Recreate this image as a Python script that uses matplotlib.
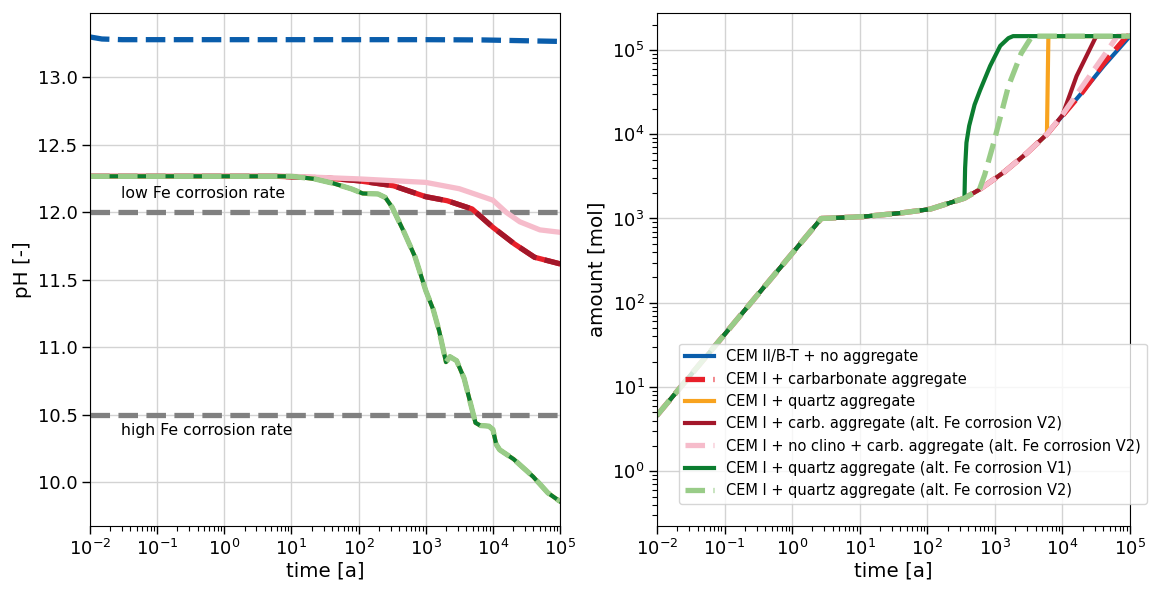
#!/usr/bin/env python3
import matplotlib

matplotlib.use("Agg")
import matplotlib.pyplot as plt
from matplotlib.ticker import LogLocator, NullFormatter

# ---- left panel: pore water pH [-] over time [a]
PH_T_BLUE = [0.01, 0.015, 0.03, 1000, 7000, 30000, 100000]
PH_BLUE = [13.30, 13.285, 13.28, 13.28, 13.278, 13.272, 13.267]

PH_T_QUARTZ = [0.01, 10, 22, 42, 79, 115, 195, 250, 316, 468, 692, 1000, 1290, 1585,
               2000, 2290, 2880, 3720, 5500, 6460, 8700, 10000, 11200, 12600, 20400,
               39800, 66000, 100000]
PH_QUARTZ = [12.267, 12.267, 12.248, 12.215, 12.173, 12.14, 12.136, 12.11, 12.037, 11.86,
             11.67, 11.42, 11.28, 11.12, 10.89, 10.93, 10.90, 10.77, 10.44, 10.42, 10.415,
             10.39, 10.28, 10.24, 10.17, 10.04, 9.92, 9.857]

PH_T_CARB = [0.01, 6.3, 32, 100, 330, 1000, 2090, 4900, 10000, 20900, 41700, 100000]
PH_CARB = [12.267, 12.267, 12.255, 12.234, 12.197, 12.116, 12.086, 12.025, 11.889, 11.766,
           11.667, 11.618]

PH_T_NOCLINO = [0.01, 10, 100, 1000, 3160, 10000, 15800, 25100, 50100, 100000]
PH_NOCLINO = [12.267, 12.267, 12.248, 12.222, 12.175, 12.09, 12.0, 11.93, 11.87, 11.852]

PH_LIMITS = [12.0, 10.5]
PH_LIMIT_TEXT = ["low Fe corrosion rate", "high Fe corrosion rate"]
PH_TEXT_Y = [12.14, 10.38]

# ---- right panel: amount [mol] over time [a]
AMT_T_BASE = [0.01, 2.7, 11, 40, 110, 355, 590, 1400, 3000, 5900, 10000, 20000, 41000, 100000]
AMT_BASE = [4.6, 1000, 1050, 1160, 1290, 1740, 2200, 3600, 6000, 10000, 16600, 32000, 65000, 146000]

AMT_T_RED = AMT_T_BASE[:12] + [41000, 90000, 100000]
AMT_RED = AMT_BASE[:12] + [70000, 146000, 146000]

AMT_T_ORANGE = AMT_T_BASE[:10] + [6200, 100000]
AMT_ORANGE = AMT_BASE[:10] + [146000, 146000]

AMT_T_DARKRED = AMT_T_BASE[:10] + [10000, 16200, 31000, 32500, 100000]
AMT_DARKRED = AMT_BASE[:10] + [16800, 49000, 141000, 146000, 146000]

AMT_T_PINK = AMT_T_BASE[:10] + [10000, 19000, 40000, 65000, 100000]
AMT_PINK = AMT_BASE[:10] + [17000, 35500, 83000, 146000, 146000]

AMT_T_GREEN1 = AMT_T_BASE[:6] + [363, 380, 417, 501, 603, 851, 1202, 1585, 1862, 100000]
AMT_GREEN1 = AMT_BASE[:6] + [3980, 7940, 12600, 22400, 33100, 64600, 112000, 138000, 146000, 146000]

AMT_T_GREEN2 = AMT_T_BASE[:7] + [708, 955, 1585, 2450, 3550, 100000]
AMT_GREEN2 = AMT_BASE[:7] + [3310, 7760, 37000, 91000, 146000, 146000]

LABELS = [
    "CEM II/B-T + no aggregate",
    "CEM I + carbarbonate aggregate",
    "CEM I + quartz aggregate",
    "CEM I + carb. aggregate (alt. Fe corrosion V2)",
    "CEM I + no clino + carb. aggregate (alt. Fe corrosion V2)",
    "CEM I + quartz aggregate (alt. Fe corrosion V1)",
    "CEM I + quartz aggregate (alt. Fe corrosion V2)",
]

BLUE = "#0a5dab"
RED = "#e8202a"
ORANGE = "#f8a31f"
DARK_RED = "#a3172a"
PINK = "#f6bccb"
DARK_GREEN = "#0b7d30"
LIGHT_GREEN = "#99cc88"
GRAY = "#808080"

LW = 3.0
LW_DASH = 3.8


def _style_axes(ax):
    ax.set_xscale("log")
    ax.set_xlim(1e-2, 1e5)
    ax.xaxis.set_major_locator(LogLocator(base=10, numticks=20))
    ax.xaxis.set_minor_locator(LogLocator(base=10, subs=range(2, 10), numticks=20))
    ax.xaxis.set_minor_formatter(NullFormatter())
    ax.grid(True, which="major", color="#d3d3d3", lw=1.0)
    ax.set_axisbelow(True)
    ax.tick_params(which="major", length=5.5, width=1, labelsize=13)
    ax.tick_params(which="minor", length=3.3, width=0.8)
    ax.set_xlabel("time [a]", fontsize=14.3, labelpad=2)


fig = plt.figure(figsize=(11.5, 5.89), dpi=100)
ax_ph = fig.add_axes([0.0783, 0.107, 0.4087, 0.871])
ax_amt = fig.add_axes([0.5713, 0.107, 0.4113, 0.871])

# left: pH
for lim in PH_LIMITS:
    ax_ph.axhline(lim, color=GRAY, ls="--", lw=LW_DASH, zorder=2)
for txt, y in zip(PH_LIMIT_TEXT, PH_TEXT_Y):
    ax_ph.text(0.029, y, txt, fontsize=11.3, va="center", ha="left")

ax_ph.plot(PH_T_BLUE, PH_BLUE, color=BLUE, ls="--", lw=LW_DASH)
ax_ph.plot(PH_T_CARB, PH_CARB, color=RED, lw=LW_DASH)
ax_ph.plot(PH_T_CARB, PH_CARB, color=DARK_RED, ls="--", lw=LW_DASH)
ax_ph.plot(PH_T_NOCLINO, PH_NOCLINO, color=PINK, lw=LW_DASH)
ax_ph.plot(PH_T_QUARTZ, PH_QUARTZ, color=ORANGE, lw=LW)
ax_ph.plot(PH_T_QUARTZ, PH_QUARTZ, color=DARK_GREEN, lw=LW)
ax_ph.plot(PH_T_QUARTZ, PH_QUARTZ, color=LIGHT_GREEN, ls="--", lw=LW_DASH)

_style_axes(ax_ph)
ax_ph.set_ylim(9.675, 13.478)
ax_ph.set_ylabel("pH [-]", fontsize=14.3)

# right: amount
ax_amt.plot(AMT_T_BASE, AMT_BASE, color=BLUE, lw=LW, label=LABELS[0])
ax_amt.plot(AMT_T_RED, AMT_RED, color=RED, ls="--", lw=LW_DASH, label=LABELS[1])
ax_amt.plot(AMT_T_ORANGE, AMT_ORANGE, color=ORANGE, lw=LW, label=LABELS[2])
ax_amt.plot(AMT_T_DARKRED, AMT_DARKRED, color=DARK_RED, lw=LW, label=LABELS[3])
ax_amt.plot(AMT_T_PINK, AMT_PINK, color=PINK, ls="--", lw=LW_DASH, label=LABELS[4])
ax_amt.plot(AMT_T_GREEN1, AMT_GREEN1, color=DARK_GREEN, lw=LW, label=LABELS[5])
ax_amt.plot(AMT_T_GREEN2, AMT_GREEN2, color=LIGHT_GREEN, ls="--", lw=LW_DASH, label=LABELS[6])

_style_axes(ax_amt)
ax_amt.set_yscale("log")
ax_amt.set_ylim(0.224, 2.75e5)
ax_amt.yaxis.set_major_locator(LogLocator(base=10, numticks=20))
ax_amt.yaxis.set_minor_locator(LogLocator(base=10, subs=range(2, 10), numticks=20))
ax_amt.yaxis.set_minor_formatter(NullFormatter())
ax_amt.set_ylabel("amount [mol]", fontsize=14.3)
ax_amt.legend(loc="lower right", bbox_to_anchor=(1.035, 0.043), borderaxespad=0,
              fontsize=10.5)

fig.savefig("out.png", dpi=100)
